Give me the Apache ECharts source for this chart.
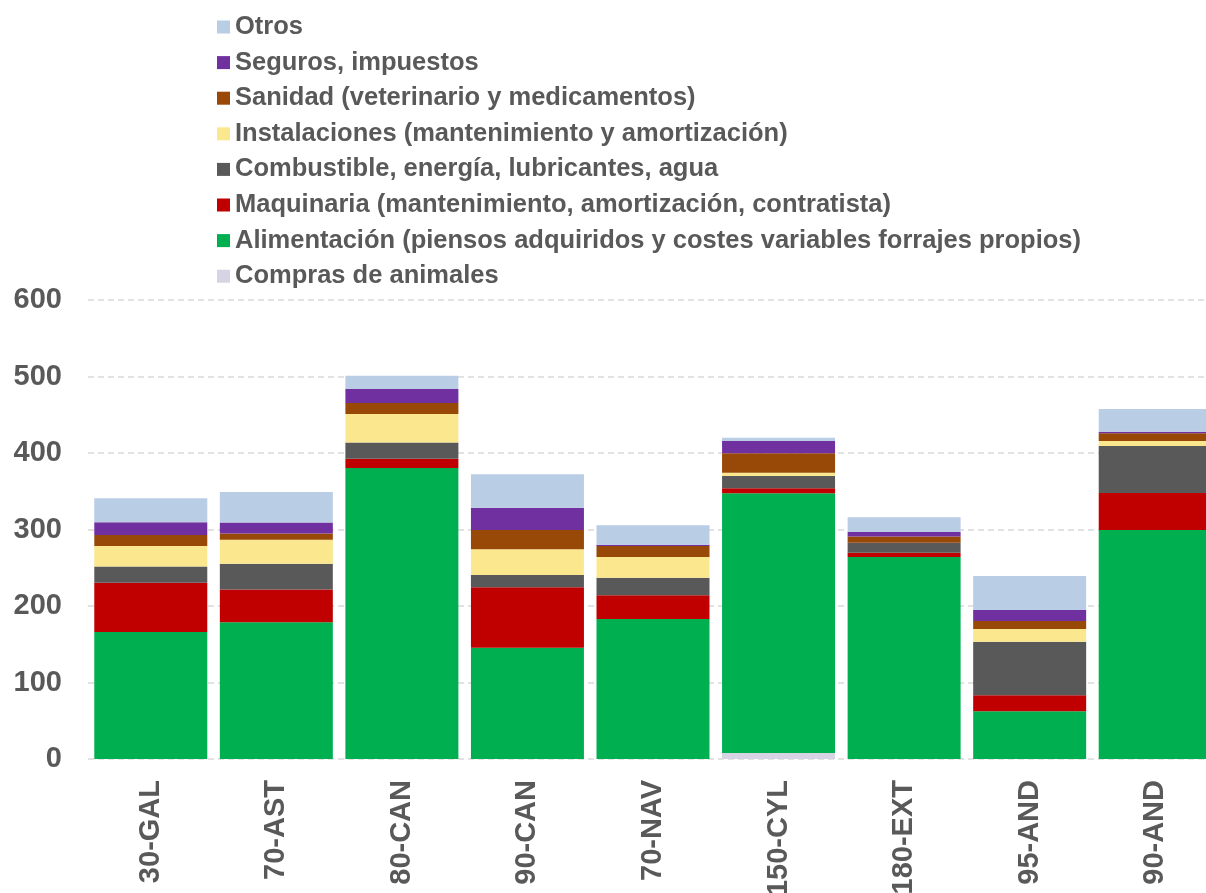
<!DOCTYPE html>
<html>
<head>
<meta charset="utf-8">
<script src="https://cdn.jsdelivr.net/npm/echarts@6/dist/echarts.min.js"></script>
<style>html,body{margin:0;padding:0;background:#fff;overflow:hidden;}#c{width:1206px;height:893px;}</style>
</head>
<body>
<div id="c"></div>
<script>
const categories = ['30-GAL','70-AST','80-CAN','90-CAN','70-NAV','150-CYL','180-EXT','95-AND','90-AND'];
const compras       = [0, 0, 0, 0, 0, 8, 0, 0, 0];
const alimentacion  = [166, 178.7, 380.4, 145.5, 183, 339.5, 264, 62.3, 299.3];
const maquinaria    = [64.5, 43, 12.2, 79, 31, 6.5, 5.7, 21, 48.4];
const combustible   = [21, 33.5, 21, 16, 23, 16, 13, 70, 61.5];
const instalaciones = [27, 31.4, 37.5, 33.6, 27, 4.3, 0, 16.7, 6.5];
const sanidad       = [14.4, 8.3, 14.4, 25.2, 14.4, 25.3, 8, 10.4, 10];
const seguros       = [16.6, 14.4, 18.3, 29.2, 1.8, 16, 6, 14.4, 2.2];
const otros         = [31.4, 39.6, 17.3, 43.7, 25.3, 4.3, 19.3, 44.4, 29.6];
const yTicks = [0, 100, 200, 300, 400, 500, 600];

const seriesDefs = [
  ['Compras de animales', compras, '#D6D3E4'],
  ['Alimentación (piensos adquiridos y costes variables forrajes propios)', alimentacion, '#00B050'],
  ['Maquinaria (mantenimiento, amortización, contratista)', maquinaria, '#C00000'],
  ['Combustible, energía, lubricantes, agua', combustible, '#595959'],
  ['Instalaciones (mantenimiento y amortización)', instalaciones, '#FBE88E'],
  ['Sanidad (veterinario y medicamentos)', sanidad, '#984807'],
  ['Seguros, impuestos', seguros, '#7030A0'],
  ['Otros', otros, '#B9CDE5']
];

const font = '"Liberation Sans", Arial, sans-serif';
const chart = echarts.init(document.getElementById('c'), null, {renderer: 'canvas'});
chart.setOption({
  animation: false,
  backgroundColor: '#ffffff',
  legend: {
    orient: 'vertical',
    left: 212,
    top: 9,
    itemWidth: 13,
    itemHeight: 13,
    itemGap: 9.6,
    icon: 'rect',
    data: seriesDefs.map(s => s[0]).reverse(),
    textStyle: {fontFamily: font, fontSize: 25.5, fontWeight: 'bold', color: '#595959', padding: [0, 0, 0, 0]}
  },
  grid: {left: 88, right: -12, top: 300, bottom: 134, containLabel: false, outerBoundsMode: 'none'},
  xAxis: {
    type: 'category',
    data: categories,
    axisLine: {show: false},
    axisTick: {show: false},
    axisLabel: {rotate: 90, margin: 21, fontFamily: font, fontSize: 29, fontWeight: 'bold', color: '#595959', interval: 0}
  },
  yAxis: {
    type: 'value',
    min: yTicks[0],
    max: yTicks[yTicks.length - 1],
    interval: 100,
    axisLine: {show: false},
    axisTick: {show: false},
    axisLabel: {margin: 26, fontFamily: font, fontSize: 29, fontWeight: 'bold', color: '#595959'},
    splitLine: {show: true, lineStyle: {color: '#D9D9D9', type: [6, 4], width: 1.5}}
  },
  series: seriesDefs.map(s => ({
    name: s[0],
    type: 'bar',
    stack: 'total',
    data: s[1],
    barCategoryGap: '10%',
    itemStyle: {color: s[2]}
  }))
});
</script>
</body>
</html>
